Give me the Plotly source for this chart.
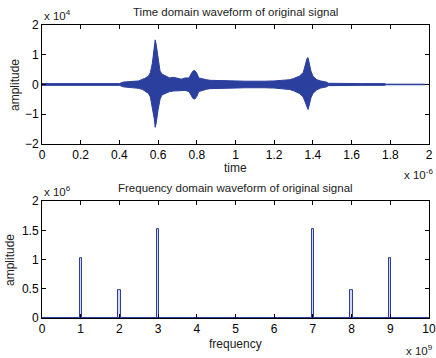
import plotly.graph_objects as go

# ---- Time-domain envelope (time in units of 1e-6 s, amplitude in units of 1e4) ----
time_us = [0, 0.40, 0.42, 0.45, 0.48, 0.50, 0.52, 0.53, 0.55, 0.56, 0.57, 0.58, 0.585, 0.59,
           0.60, 0.61, 0.62, 0.64, 0.66, 0.68, 0.70, 0.72, 0.74, 0.76, 0.77, 0.78, 0.79, 0.80,
           0.81, 0.83, 0.85, 0.87, 0.90, 0.95, 1.00, 1.05, 1.10, 1.15, 1.20, 1.25, 1.28, 1.30,
           1.33, 1.35, 1.36, 1.37, 1.375, 1.38, 1.39, 1.40, 1.42, 1.44, 1.46, 1.47, 1.48, 1.55,
           1.65, 1.77, 1.78, 1.98]
env_upper = [0.03, 0.03, 0.08, 0.10, 0.13, 0.12, 0.18, 0.20, 0.28, 0.40, 0.70, 1.20, 1.50, 1.35,
             0.80, 0.45, 0.35, 0.28, 0.22, 0.24, 0.20, 0.18, 0.22, 0.22, 0.35, 0.45, 0.47, 0.38,
             0.22, 0.18, 0.16, 0.14, 0.13, 0.12, 0.12, 0.11, 0.10, 0.11, 0.12, 0.15, 0.16, 0.20,
             0.28, 0.40, 0.65, 0.88, 0.90, 0.75, 0.45, 0.28, 0.16, 0.12, 0.10, 0.08, 0.04, 0.03,
             0.03, 0.03, 0.01, 0.01]
env_lower = [-0.03, -0.03, -0.08, -0.10, -0.12, -0.13, -0.17, -0.22, -0.30, -0.42, -0.75, -1.15, -1.44, -1.30,
             -0.85, -0.50, -0.35, -0.30, -0.24, -0.22, -0.21, -0.19, -0.20, -0.24, -0.38, -0.47, -0.49, -0.40,
             -0.24, -0.19, -0.16, -0.14, -0.13, -0.12, -0.12, -0.11, -0.10, -0.11, -0.12, -0.15, -0.17, -0.21,
             -0.30, -0.42, -0.62, -0.80, -0.84, -0.72, -0.45, -0.30, -0.18, -0.12, -0.10, -0.08, -0.04, -0.03,
             -0.03, -0.03, -0.01, -0.01]

# ---- Frequency-domain peaks (frequency in units of 1e9 Hz, amplitude in units of 1e6) ----
freq_ghz = [1, 2, 3, 7, 8, 9]
freq_amp = [1.03, 0.47, 1.52, 1.52, 0.47, 1.03]

x_ticks_time = [0, 0.2, 0.4, 0.6, 0.8, 1, 1.2, 1.4, 1.6, 1.8, 2]
x_ticks_freq = list(range(0, 11))
y_ticks_time = [-2, -1, 0, 1, 2]
y_ticks_freq = [0, 0.5, 1, 1.5, 2]

BLUE = "#2b3f9e"
FONT = "Liberation Sans, Arial, sans-serif"

fig = go.Figure()

fig.add_trace(go.Scatter(x=time_us, y=env_upper, mode="lines",
                         line=dict(color=BLUE, width=1), xaxis="x", yaxis="y",
                         showlegend=False, hoverinfo="skip"))
fig.add_trace(go.Scatter(x=time_us, y=env_lower, mode="lines", fill="tonexty",
                         fillcolor=BLUE, line=dict(color=BLUE, width=1), xaxis="x", yaxis="y",
                         showlegend=False, hoverinfo="skip"))

fig.add_trace(go.Scatter(x=[x_ticks_freq[0], x_ticks_freq[-1]], y=[0, 0], mode="lines",
                         line=dict(color=BLUE, width=2), xaxis="x2", yaxis="y2",
                         showlegend=False, hoverinfo="skip"))
fig.add_trace(go.Bar(x=freq_ghz, y=freq_amp, width=0.06, xaxis="x2", yaxis="y2",
                     marker=dict(color="#d5daf0", line=dict(color=BLUE, width=1)),
                     showlegend=False, hoverinfo="skip"))

axis_common = dict(showline=True, linecolor="black", linewidth=1, mirror="allticks",
                   ticks="inside", ticklen=4, tickcolor="black", showgrid=False,
                   zeroline=False, automargin=False,
                   tickfont=dict(family=FONT, size=12, color="black"))

fig.update_layout(
    width=436, height=358,
    margin=dict(l=42, r=7, t=25, b=40),
    paper_bgcolor="white", plot_bgcolor="white",
    font=dict(family=FONT, size=12, color="black"),
    xaxis=dict(domain=[0, 1], anchor="y", range=[0, 2], tickvals=x_ticks_time,
               ticktext=[f"{v:g}" for v in x_ticks_time], **axis_common),
    yaxis=dict(domain=[0.594, 1], anchor="x", range=[-2, 2], tickvals=y_ticks_time,
               **axis_common),
    xaxis2=dict(domain=[0, 1], anchor="y2", range=[0, 10], tickvals=x_ticks_freq,
                **axis_common),
    yaxis2=dict(domain=[0, 0.399], anchor="x2", range=[0, 2], tickvals=y_ticks_freq,
                ticktext=[f"{v:g}" for v in y_ticks_freq], **axis_common),
    bargap=0,
)

def ann(text, x, y, size=12, xanchor="center", yanchor="middle", angle=0, color="#222"):
    fig.add_annotation(text=text, x=x, y=y, xref="paper", yref="paper",
                       xanchor=xanchor, yanchor=yanchor, showarrow=False, textangle=angle,
                       font=dict(family=FONT, size=size, color=color))

W, H = 387, 293
def px(xp):  # pixel x -> paper
    return (xp - 42) / W
def py(yp):  # pixel y -> paper
    return (358 - 40 - yp) / H

ann("Time domain waveform of original signal", px(235), py(12), size=11.5)
ann("Frequency domain waveform of original signal", px(235), py(188), size=11.5)
ann("x 10<sup>4</sup>", px(42), py(15), xanchor="left", size=11.5)
ann("x 10<sup>6</sup>", px(42), py(191), xanchor="left", size=11.5)
ann("x 10<sup>-6</sup>", px(435), py(174), xanchor="right", size=11.5)
ann("x 10<sup>9</sup>", px(435), py(350), xanchor="right", size=11.5)
ann("time", px(235), py(168), size=12)
ann("frequency", px(235), py(344), size=12)
ann("amplitude", px(15), py(85), angle=-90, size=12)
ann("amplitude", px(10), py(260), angle=-90, size=12)

fig.write_html("out.html", config={"displayModeBar": False},
               post_script="document.body.style.margin='0';document.body.style.overflow='hidden';")
